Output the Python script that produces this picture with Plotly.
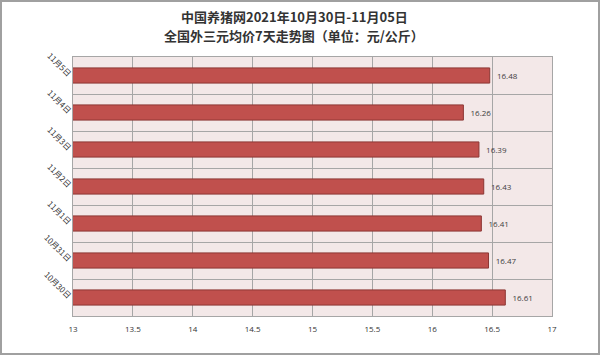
import plotly.graph_objects as go

dates = ["10月30日", "10月31日", "11月1日", "11月2日", "11月3日", "11月4日", "11月5日"]
prices = [16.61, 16.47, 16.41, 16.43, 16.39, 16.26, 16.48]
x_ticks = [13, 13.5, 14, 14.5, 15, 15.5, 16, 16.5, 17]

title_lines = ["中国养猪网2021年10月30日-11月05日", "全国外三元均价7天走势图（单位：元/公斤）"]

L, R, T, B = 73, 48, 57, 39
W, H = 600, 355
pw, ph = W - L - R, H - T - B

fig = go.Figure(go.Bar(
    x=prices, y=dates, orientation="h",
    marker=dict(color="#C0504D", line=dict(color="#8C3634", width=1)),
    text=[f"{v:.2f}" for v in prices],
    texttemplate="  %{text}",
    textposition="outside",
    textfont=dict(size=8, color="#404040", family="Open Sans"),
    cliponaxis=False,
    width=0.41,
))

annotations = []
for i, (line, ypix) in enumerate(zip(title_lines, [16, 36])):
    annotations.append(dict(
        text=f"<b>{line}</b>", xref="paper", yref="paper",
        x=(294 - L) / pw, y=1 + (T - ypix) / ph,
        xanchor="center", yanchor="middle", showarrow=False,
        font=dict(size=13, color="#333333", family="Noto Sans CJK SC")))

fig.update_layout(
    width=W, height=H,
    margin=dict(l=L, r=R, t=T, b=B),
    paper_bgcolor="white",
    plot_bgcolor="#F3E8E8",
    showlegend=False,
    annotations=annotations,
    xaxis=dict(range=[13, 17], tickvals=x_ticks, ticktext=[str(v) for v in x_ticks],
               showgrid=True, gridcolor="#A6A6A6", gridwidth=1,
               showline=True, linecolor="#A6A6A6", linewidth=1, mirror=True,
               ticks="outside", ticklen=5, tickcolor="rgba(0,0,0,0)",
               tickfont=dict(size=8, color="#333333", family="Open Sans"),
               zeroline=False, fixedrange=True),
    yaxis=dict(type="category", categoryorder="array", categoryarray=dates,
               tickson="boundaries", showgrid=True, gridcolor="#A6A6A6", gridwidth=1,
               showline=True, linecolor="#A6A6A6", linewidth=1, mirror=True,
               ticks="outside", ticklen=7, tickcolor="rgba(0,0,0,0)", tickangle=45,
               tickfont=dict(size=8, color="#333333", family="Noto Sans CJK SC"),
               fixedrange=True),
    shapes=[dict(type="rect", xref="paper", yref="paper",
                 x0=-(L - 1) / pw, x1=1 + (R - 1) / pw,
                 y0=-(B - 1) / ph, y1=1 + (T - 1) / ph,
                 line=dict(color="#A0A0A0", width=2), layer="below")],
)

fig.write_html("out.html")
